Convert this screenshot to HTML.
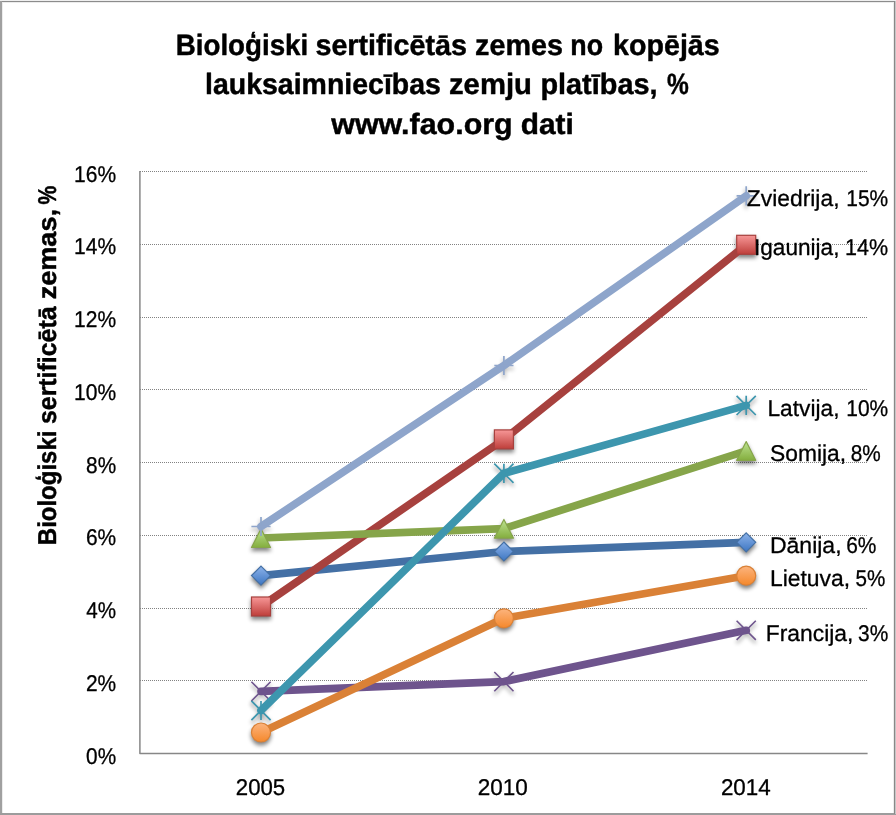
<!DOCTYPE html>
<html lang="lv">
<head>
<meta charset="utf-8">
<title>Bioloģiski sertificētās zemes</title>
<style>
html,body{margin:0;padding:0;background:#fff;}
body{width:896px;height:815px;overflow:hidden;}
svg{display:block;}
text{font-family:"Liberation Sans",sans-serif;fill:#000;text-rendering:geometricPrecision;stroke:#000;stroke-width:0.3px;stroke-linejoin:round;}
.b text{font-weight:bold;stroke-width:0.45px;}
</style>
</head>
<body>
<svg width="896" height="815" viewBox="0 0 896 815">
<defs>
<filter id="sh" x="-50%" y="-50%" width="200%" height="220%">
<feGaussianBlur in="SourceAlpha" stdDeviation="2.1"/>
<feOffset dx="0" dy="2.8" result="o"/>
<feComponentTransfer><feFuncA type="linear" slope="0.5"/></feComponentTransfer>
</filter>
<linearGradient id="gDanija" x1="0" y1="0" x2="0" y2="1"><stop offset="0" stop-color="#8DB3EA"/><stop offset="1" stop-color="#3D76C2"/></linearGradient>
<linearGradient id="gIgaunija" x1="0" y1="0" x2="0" y2="1"><stop offset="0" stop-color="#F79797"/><stop offset="1" stop-color="#BE3E3A"/></linearGradient>
<linearGradient id="gSomija" x1="0" y1="0" x2="0" y2="1"><stop offset="0" stop-color="#BDE291"/><stop offset="1" stop-color="#84AE3E"/></linearGradient>
<linearGradient id="gLietuva" x1="0" y1="0" x2="0" y2="1"><stop offset="0" stop-color="#FCB47E"/><stop offset="1" stop-color="#F5882B"/></linearGradient>
</defs>
<rect x="0" y="0" width="896" height="815" fill="#fff"/>
<!-- chart frame -->
<rect x="0" y="0" width="896" height="1" fill="#efefef"/>
<rect x="0" y="1" width="895" height="1" fill="#8c8c8c"/>
<rect x="2" y="2" width="892" height="1" fill="#ececec"/>
<rect x="0" y="1" width="2" height="814" fill="#a0a0a0"/>
<rect x="2" y="2" width="1" height="811" fill="#ececec"/>
<rect x="0" y="813" width="896" height="2" fill="#9c9c9c"/>
<rect x="894" y="1" width="1" height="813" fill="#888"/>
<rect x="895" y="1" width="1" height="813" fill="#c6c6c6"/>
<rect x="893" y="2" width="1" height="811" fill="#ececec"/>
<!-- gridlines and axes -->
<line x1="140" y1="680.5" x2="868" y2="680.5" stroke="#828282" stroke-width="1" stroke-dasharray="1 1"/>
<line x1="140" y1="608.5" x2="868" y2="608.5" stroke="#828282" stroke-width="1" stroke-dasharray="1 1"/>
<line x1="140" y1="535.5" x2="868" y2="535.5" stroke="#828282" stroke-width="1" stroke-dasharray="1 1"/>
<line x1="140" y1="462.5" x2="868" y2="462.5" stroke="#828282" stroke-width="1" stroke-dasharray="1 1"/>
<line x1="140" y1="389.5" x2="868" y2="389.5" stroke="#828282" stroke-width="1" stroke-dasharray="1 1"/>
<line x1="140" y1="317.5" x2="868" y2="317.5" stroke="#828282" stroke-width="1" stroke-dasharray="1 1"/>
<line x1="140" y1="244.5" x2="868" y2="244.5" stroke="#828282" stroke-width="1" stroke-dasharray="1 1"/>
<line x1="140" y1="171.5" x2="868" y2="171.5" stroke="#828282" stroke-width="1" stroke-dasharray="1 1"/>
<path d="M139.9 171L139.9 753.6L867.6 753.6" fill="none" stroke="#878787" stroke-width="1.5" stroke-linejoin="round"/>
<!-- chart title -->
<g class="b" font-size="29.3">
<text y="54.9"><tspan x="175.74" textLength="132.51" lengthAdjust="spacingAndGlyphs">Bioloģiski</tspan> <tspan x="315.47" textLength="151.48" lengthAdjust="spacingAndGlyphs">sertificētās</tspan> <tspan x="475.12" textLength="87.85" lengthAdjust="spacingAndGlyphs">zemes</tspan> <tspan x="570.30" textLength="32.76" lengthAdjust="spacingAndGlyphs">no</tspan> <tspan x="613.09" textLength="106.59" lengthAdjust="spacingAndGlyphs">kopējās</tspan></text>
<text y="94.3"><tspan x="205.00" textLength="235.88" lengthAdjust="spacingAndGlyphs">lauksaimniecības</tspan> <tspan x="449.00" textLength="82.88" lengthAdjust="spacingAndGlyphs">zemju</tspan> <tspan x="540.38" textLength="117.16" lengthAdjust="spacingAndGlyphs">platības,</tspan> <tspan x="666.98" textLength="21.79" lengthAdjust="spacingAndGlyphs">%</tspan></text>
<text y="133.8"><tspan x="331.26" textLength="181.41" lengthAdjust="spacingAndGlyphs">www.fao.org</tspan> <tspan x="520.68" textLength="53.10" lengthAdjust="spacingAndGlyphs">dati</tspan></text>
</g>
<!-- value axis title -->
<g class="b" font-size="25.8" transform="translate(55.6 543.0) rotate(-90)">
<text y="0"><tspan x="-2.19" textLength="114.62" lengthAdjust="spacingAndGlyphs">Bioloģiski</tspan> <tspan x="118.98" textLength="117.58" lengthAdjust="spacingAndGlyphs">sertificētā</tspan> <tspan x="243.71" textLength="90.31" lengthAdjust="spacingAndGlyphs">zemas,</tspan> <tspan x="338.59" textLength="18.78" lengthAdjust="spacingAndGlyphs">%</tspan></text>
</g>
<!-- axis labels -->
<g font-size="22.8">
<text y="763.6"><tspan x="86.12" textLength="30.02" lengthAdjust="spacingAndGlyphs">0%</tspan></text>
<text y="690.9"><tspan x="85.88" textLength="30.26" lengthAdjust="spacingAndGlyphs">2%</tspan></text>
<text y="618.1"><tspan x="86.35" textLength="29.79" lengthAdjust="spacingAndGlyphs">4%</tspan></text>
<text y="545.4"><tspan x="85.88" textLength="30.26" lengthAdjust="spacingAndGlyphs">6%</tspan></text>
<text y="472.6"><tspan x="86.12" textLength="30.02" lengthAdjust="spacingAndGlyphs">8%</tspan></text>
<text y="399.9"><tspan x="74.02" textLength="42.07" lengthAdjust="spacingAndGlyphs">10%</tspan></text>
<text y="327.1"><tspan x="74.02" textLength="42.07" lengthAdjust="spacingAndGlyphs">12%</tspan></text>
<text y="254.3"><tspan x="74.02" textLength="42.07" lengthAdjust="spacingAndGlyphs">14%</tspan></text>
<text y="181.6"><tspan x="74.02" textLength="42.07" lengthAdjust="spacingAndGlyphs">16%</tspan></text>
<text y="795.2"><tspan x="235.83" textLength="49.37" lengthAdjust="spacingAndGlyphs">2005</tspan></text>
<text y="795.2"><tspan x="477.71" textLength="50.10" lengthAdjust="spacingAndGlyphs">2010</tspan></text>
<text y="795.2"><tspan x="720.92" textLength="49.84" lengthAdjust="spacingAndGlyphs">2014</tspan></text>
</g>
<!-- marker shadows -->
<g>
<path d="M261.0 566.1L270.5 575.6L261.0 585.1L251.5 575.6Z" fill="url(#gDanija)" stroke="#4470A5" stroke-width="1.2" filter="url(#sh)"/>
<path d="M503.9 542.0L513.4 551.5L503.9 561.0L494.4 551.5Z" fill="url(#gDanija)" stroke="#4470A5" stroke-width="1.2" filter="url(#sh)"/>
<path d="M746.2 532.8L755.7 542.3L746.2 551.8L736.7 542.3Z" fill="url(#gDanija)" stroke="#4470A5" stroke-width="1.2" filter="url(#sh)"/>
<rect x="251.5" y="597.0" width="19" height="19" fill="url(#gIgaunija)" stroke="#A7413E" stroke-width="1.2" filter="url(#sh)"/>
<rect x="494.4" y="429.9" width="19" height="19" fill="url(#gIgaunija)" stroke="#A7413E" stroke-width="1.2" filter="url(#sh)"/>
<rect x="736.7" y="235.3" width="19" height="19" fill="url(#gIgaunija)" stroke="#A7413E" stroke-width="1.2" filter="url(#sh)"/>
<path d="M261.0 528.8L270.5 547.5L251.5 547.5Z" fill="url(#gSomija)" stroke="#86A54A" stroke-width="1.2" stroke-linejoin="round" filter="url(#sh)"/>
<path d="M503.9 519.4L513.4 538.1L494.4 538.1Z" fill="url(#gSomija)" stroke="#86A54A" stroke-width="1.2" stroke-linejoin="round" filter="url(#sh)"/>
<path d="M746.2 441.6L755.7 460.3L736.7 460.3Z" fill="url(#gSomija)" stroke="#86A54A" stroke-width="1.2" stroke-linejoin="round" filter="url(#sh)"/>
<path d="M251.4 681.8L270.6 701.0M270.6 681.8L251.4 701.0" fill="none" stroke="#6E548D" stroke-width="1.6" filter="url(#sh)"/>
<path d="M494.3 672.0L513.5 691.2M513.5 672.0L494.3 691.2" fill="none" stroke="#6E548D" stroke-width="1.6" filter="url(#sh)"/>
<path d="M736.6 620.7L755.8 639.9M755.8 620.7L736.6 639.9" fill="none" stroke="#6E548D" stroke-width="1.6" filter="url(#sh)"/>
<path d="M251.4 700.9L270.6 720.1M270.6 700.9L251.4 720.1M261.0 700.9L261.0 720.1" fill="none" stroke="#3D96AE" stroke-width="1.7" filter="url(#sh)"/>
<path d="M494.3 463.7L513.5 482.9M513.5 463.7L494.3 482.9M503.9 463.7L503.9 482.9" fill="none" stroke="#3D96AE" stroke-width="1.7" filter="url(#sh)"/>
<path d="M736.6 395.8L755.8 415.0M755.8 395.8L736.6 415.0M746.2 395.8L746.2 415.0" fill="none" stroke="#3D96AE" stroke-width="1.7" filter="url(#sh)"/>
<circle cx="261.0" cy="732.5" r="9.5" fill="url(#gLietuva)" stroke="#DA8136" stroke-width="1.2" filter="url(#sh)"/>
<circle cx="503.9" cy="618.3" r="9.5" fill="url(#gLietuva)" stroke="#DA8136" stroke-width="1.2" filter="url(#sh)"/>
<circle cx="746.2" cy="575.7" r="9.5" fill="url(#gLietuva)" stroke="#DA8136" stroke-width="1.2" filter="url(#sh)"/>
<path d="M251.4 526.5L270.6 526.5M261.0 516.9L261.0 536.1" fill="none" stroke="#8EA5CB" stroke-width="1.7" filter="url(#sh)"/>
<path d="M494.3 365.5L513.5 365.5M503.9 355.9L503.9 375.1" fill="none" stroke="#8EA5CB" stroke-width="1.7" filter="url(#sh)"/>
<path d="M736.6 195.9L755.8 195.9M746.2 186.3L746.2 205.5" fill="none" stroke="#8EA5CB" stroke-width="1.7" filter="url(#sh)"/>
</g>
<!-- series -->
<g>
<polyline points="261.0,575.6 503.9,551.5 746.2,542.3" fill="none" stroke="#4470A5" stroke-width="7.7" stroke-linecap="round" stroke-linejoin="round"/>
<path d="M261.0 566.1L270.5 575.6L261.0 585.1L251.5 575.6Z" fill="url(#gDanija)" stroke="#4470A5" stroke-width="1.2"/>
<path d="M503.9 542.0L513.4 551.5L503.9 561.0L494.4 551.5Z" fill="url(#gDanija)" stroke="#4470A5" stroke-width="1.2"/>
<path d="M746.2 532.8L755.7 542.3L746.2 551.8L736.7 542.3Z" fill="url(#gDanija)" stroke="#4470A5" stroke-width="1.2"/>
</g>
<g>
<polyline points="261.0,606.5 503.9,439.4 746.2,244.8" fill="none" stroke="#A7413E" stroke-width="7.7" stroke-linecap="round" stroke-linejoin="round"/>
<rect x="251.5" y="597.0" width="19" height="19" fill="url(#gIgaunija)" stroke="#A7413E" stroke-width="1.2"/>
<rect x="494.4" y="429.9" width="19" height="19" fill="url(#gIgaunija)" stroke="#A7413E" stroke-width="1.2"/>
<rect x="736.7" y="235.3" width="19" height="19" fill="url(#gIgaunija)" stroke="#A7413E" stroke-width="1.2"/>
</g>
<g>
<polyline points="261.0,538.0 503.9,528.6 746.2,450.8" fill="none" stroke="#86A54A" stroke-width="7.7" stroke-linecap="round" stroke-linejoin="round"/>
<path d="M261.0 528.8L270.5 547.5L251.5 547.5Z" fill="url(#gSomija)" stroke="#86A54A" stroke-width="1.2" stroke-linejoin="round"/>
<path d="M503.9 519.4L513.4 538.1L494.4 538.1Z" fill="url(#gSomija)" stroke="#86A54A" stroke-width="1.2" stroke-linejoin="round"/>
<path d="M746.2 441.6L755.7 460.3L736.7 460.3Z" fill="url(#gSomija)" stroke="#86A54A" stroke-width="1.2" stroke-linejoin="round"/>
</g>
<g>
<polyline points="261.0,691.4 503.9,681.6 746.2,630.3" fill="none" stroke="#6E548D" stroke-width="7.7" stroke-linecap="round" stroke-linejoin="round"/>
<path d="M251.4 681.8L270.6 701.0M270.6 681.8L251.4 701.0" fill="none" stroke="#6E548D" stroke-width="1.6"/>
<path d="M494.3 672.0L513.5 691.2M513.5 672.0L494.3 691.2" fill="none" stroke="#6E548D" stroke-width="1.6"/>
<path d="M736.6 620.7L755.8 639.9M755.8 620.7L736.6 639.9" fill="none" stroke="#6E548D" stroke-width="1.6"/>
</g>
<g>
<polyline points="261.0,710.5 503.9,473.3 746.2,405.4" fill="none" stroke="#3D96AE" stroke-width="7.7" stroke-linecap="round" stroke-linejoin="round"/>
<path d="M251.4 700.9L270.6 720.1M270.6 700.9L251.4 720.1M261.0 700.9L261.0 720.1" fill="none" stroke="#3D96AE" stroke-width="1.7"/>
<path d="M494.3 463.7L513.5 482.9M513.5 463.7L494.3 482.9M503.9 463.7L503.9 482.9" fill="none" stroke="#3D96AE" stroke-width="1.7"/>
<path d="M736.6 395.8L755.8 415.0M755.8 395.8L736.6 415.0M746.2 395.8L746.2 415.0" fill="none" stroke="#3D96AE" stroke-width="1.7"/>
</g>
<g>
<polyline points="261.0,732.5 503.9,618.3 746.2,575.7" fill="none" stroke="#DA8136" stroke-width="7.7" stroke-linecap="round" stroke-linejoin="round"/>
<circle cx="261.0" cy="732.5" r="9.5" fill="url(#gLietuva)" stroke="#DA8136" stroke-width="1.2"/>
<circle cx="503.9" cy="618.3" r="9.5" fill="url(#gLietuva)" stroke="#DA8136" stroke-width="1.2"/>
<circle cx="746.2" cy="575.7" r="9.5" fill="url(#gLietuva)" stroke="#DA8136" stroke-width="1.2"/>
</g>
<g>
<polyline points="261.0,526.5 503.9,365.5 746.2,195.9" fill="none" stroke="#8EA5CB" stroke-width="7.7" stroke-linecap="round" stroke-linejoin="round"/>
<path d="M251.4 526.5L270.6 526.5M261.0 516.9L261.0 536.1" fill="none" stroke="#8EA5CB" stroke-width="1.7"/>
<path d="M494.3 365.5L513.5 365.5M503.9 355.9L503.9 375.1" fill="none" stroke="#8EA5CB" stroke-width="1.7"/>
<path d="M736.6 195.9L755.8 195.9M746.2 186.3L746.2 205.5" fill="none" stroke="#8EA5CB" stroke-width="1.7"/>
</g>
<!-- data labels -->
<g font-size="22.8">
<text y="205.6"><tspan x="746.80" textLength="92.69" lengthAdjust="spacingAndGlyphs">Zviedrija,</tspan> <tspan x="846.22" textLength="41.97" lengthAdjust="spacingAndGlyphs">15%</tspan></text>
<text y="254.6"><tspan x="754.02" textLength="85.42" lengthAdjust="spacingAndGlyphs">Igaunija,</tspan> <tspan x="845.08" textLength="43.12" lengthAdjust="spacingAndGlyphs">14%</tspan></text>
<text y="415.7"><tspan x="767.46" textLength="72.02" lengthAdjust="spacingAndGlyphs">Latvija,</tspan> <tspan x="846.22" textLength="41.97" lengthAdjust="spacingAndGlyphs">10%</tspan></text>
<text y="460.8"><tspan x="770.00" textLength="76.12" lengthAdjust="spacingAndGlyphs">Somija,</tspan> <tspan x="850.72" textLength="30.02" lengthAdjust="spacingAndGlyphs">8%</tspan></text>
<text y="552.8"><tspan x="769.93" textLength="71.65" lengthAdjust="spacingAndGlyphs">Dānija,</tspan> <tspan x="846.18" textLength="30.26" lengthAdjust="spacingAndGlyphs">6%</tspan></text>
<text y="585.7"><tspan x="769.94" textLength="80.23" lengthAdjust="spacingAndGlyphs">Lietuva,</tspan> <tspan x="855.62" textLength="29.81" lengthAdjust="spacingAndGlyphs">5%</tspan></text>
<text y="640.5"><tspan x="765.75" textLength="87.58" lengthAdjust="spacingAndGlyphs">Francija,</tspan> <tspan x="858.01" textLength="30.23" lengthAdjust="spacingAndGlyphs">3%</tspan></text>
</g>
</svg>
</body>
</html>
